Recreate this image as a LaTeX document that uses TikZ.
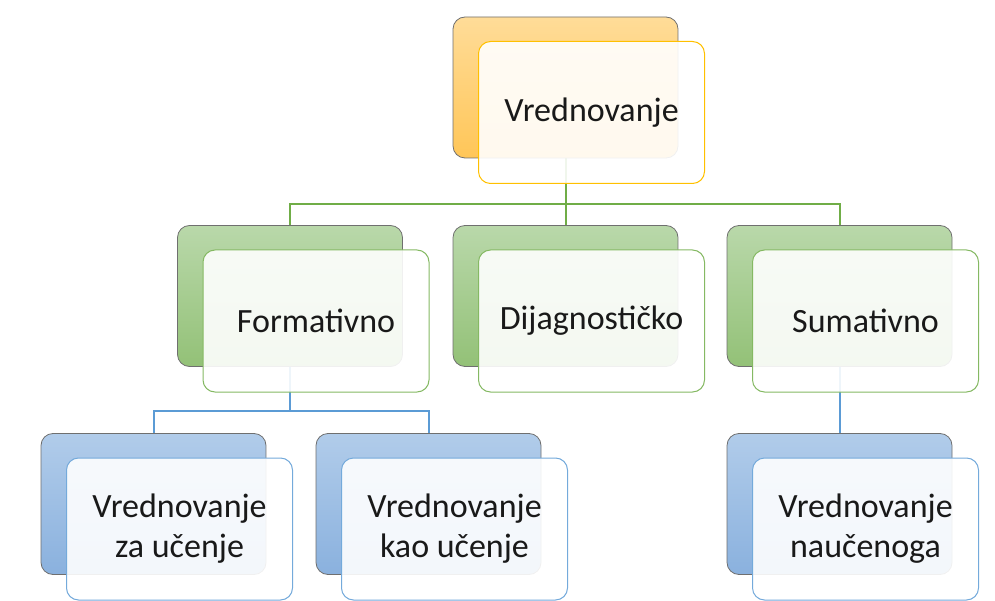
\documentclass[tikz,border=0pt]{standalone}
\usepackage{fontspec}
\setmainfont{Carlito}
\usetikzlibrary{backgrounds}
\definecolor{orTop}{HTML}{FFDC98}
\definecolor{orBot}{HTML}{FFC658}
\definecolor{orLine}{HTML}{FFC000}
\definecolor{grTop}{HTML}{B9D8AA}
\definecolor{grBot}{HTML}{93C177}
\definecolor{grLine}{HTML}{70AD47}
\definecolor{blTop}{HTML}{B1CCEA}
\definecolor{blBot}{HTML}{8AB1DE}
\definecolor{blLine}{HTML}{5B9BD5}
\definecolor{edge}{HTML}{6F6F6F}
\tikzset{
  back/.style={draw=edge, line width=0.8pt, rounded corners=12pt,
    minimum width=225pt, minimum height=141pt, inner sep=0pt},
  front/.style={line width=1pt, rounded corners=12pt, fill=white,
    fill opacity=0.9, text opacity=1, text=black!90,
    minimum width=226pt, minimum height=142pt, inner sep=0pt,
    align=center, font=\fontsize{34}{40}\selectfont,
    xshift=26pt, yshift=-25pt},
  orback/.style={back, top color=orTop, bottom color=orBot},
  grback/.style={back, top color=grTop, bottom color=grBot},
  blback/.style={back, top color=blTop, bottom color=blBot},
  link/.style={line width=2pt}
}
\begin{document}
\begin{tikzpicture}[x=1pt,y=-1pt]
  \useasboundingbox (0,0) rectangle (995,601);
  % top
  \node[orback] (vb) at (565.5,87.5) {};
  \node[front, draw=orLine] (v) at (vb) {Vrednovanje};
  % second row
  \node[grback] (fb) at (290,296) {};
  \node[front, draw=grLine!85] (f) at (fb) {Formativno};
  \node[grback] (db) at (565.5,296) {};
  \node[front, draw=grLine!85] (d) at (db) {Dijagnostičko};
  \node[grback] (sb) at (839.5,296) {};
  \node[front, draw=grLine!85] (s) at (sb) {Sumativno};
  % third row
  \node[blback] (zb) at (153.5,504) {};
  \node[front, draw=blLine!85] (z) at (zb) {Vrednovanje\\za učenje};
  \node[blback] (kb) at (428.5,504) {};
  \node[front, draw=blLine!85] (k) at (kb) {Vrednovanje\\kao učenje};
  \node[blback] (nb) at (839.5,504) {};
  \node[front, draw=blLine!85] (n) at (nb) {Vrednovanje\\naučenoga};
  % links
  \begin{scope}[on background layer]
    \coordinate (bus1) at (565.5,204);
    \coordinate (bus2) at (290,411);
    \draw[link, grLine] (vb.south) -- (bus1) -| (fb.north);
    \draw[link, grLine] (bus1) -- (db.north);
    \draw[link, grLine] (bus1) -| (sb.north);
    \draw[link, blLine] (fb.south) -- (bus2) -| (zb.north);
    \draw[link, blLine] (bus2) -| (kb.north);
    \draw[link, blLine] (sb.south) -- (nb.north);
  \end{scope}
\end{tikzpicture}
\end{document}
